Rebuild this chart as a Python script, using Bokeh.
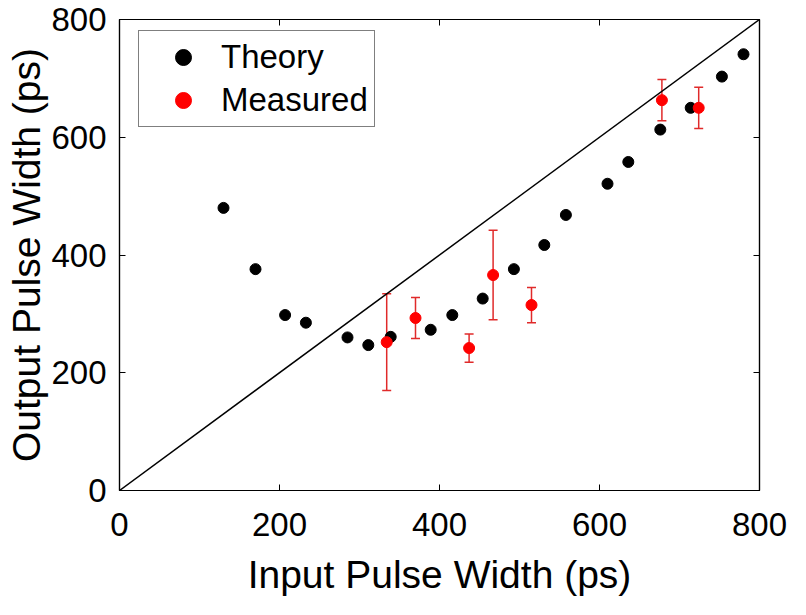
from bokeh.plotting import figure
from bokeh.models import (ColumnDataSource, Whisker, TeeHead, Legend, LegendItem,
                          LinearAxis, FixedTicker, Range1d)
from bokeh.embed import file_html
from bokeh.resources import INLINE

# ---- data ----
theory_x = [130, 170, 207, 233, 285, 311, 339, 389, 416, 454, 493, 531, 558, 610, 636, 676, 714, 753, 780]
theory_y = [480, 376, 298, 285, 260, 247, 261, 273, 298, 326, 376, 417, 468, 521, 558, 613, 650, 703, 741]

meas_x = [334, 370, 437, 467, 515, 678, 724]
meas_y = [252, 293, 242, 366, 315, 663, 650]
meas_err = [82, 35, 24, 76, 30, 35, 35]

diag_x = [0, 800]
diag_y = [0, 800]

tick_vals = [0, 200, 400, 600, 800]

FONT = "Liberation Sans"
W, H = 790, 599
BL, BR, BT, BB = 119, 31, 19, 109
FH = H - BT - BB

p = figure(width=W, height=H, output_backend="svg", toolbar_location=None,
           x_range=Range1d(0, 800), y_range=Range1d(0, 800),
           min_border_left=BL, min_border_right=BR, min_border_top=BT, min_border_bottom=BB)
p.grid.visible = False
p.outline_line_color = "black"
p.outline_line_width = 1.2
p.background_fill_color = "white"
p.border_fill_color = "white"

for ax in (p.xaxis[0], p.yaxis[0]):
    ax.ticker = FixedTicker(ticks=tick_vals)
    ax.major_tick_in = 6
    ax.major_tick_out = 0
    ax.minor_tick_line_color = None
    ax.axis_line_color = "black"
    ax.axis_line_width = 1.2
    ax.major_tick_line_color = "black"
    ax.major_label_text_font = FONT
    ax.major_label_text_font_size = "33px"
    ax.major_label_text_color = "black"
    ax.axis_label_text_font = FONT
    ax.axis_label_text_font_size = "39px"
    ax.axis_label_text_font_style = "normal"
    ax.axis_label_text_color = "black"

p.xaxis.axis_label = "Input Pulse Width (ps)"
p.yaxis.axis_label = "Output Pulse Width (ps)"
p.xaxis.major_label_standoff = 22
p.yaxis.major_label_standoff = 13
p.xaxis.axis_label_standoff = 14
p.yaxis.axis_label_standoff = 0

for loc in ("above", "right"):
    ax = LinearAxis(ticker=FixedTicker(ticks=tick_vals), major_tick_in=6, major_tick_out=0,
                    minor_tick_line_color=None, major_label_standoff=0,
                    major_label_overrides={t: "" for t in tick_vals},
                    axis_line_color="black", axis_line_width=1.2)
    p.add_layout(ax, loc)

p.line(diag_x, diag_y, line_color="black", line_width=1.5)

th = p.scatter(theory_x, theory_y, size=11, fill_color="black", line_color="black")

lower = [y - e for y, e in zip(meas_y, meas_err)]
upper = [y + e for y, e in zip(meas_y, meas_err)]
src = ColumnDataSource(dict(x=meas_x, y=meas_y, lower=lower, upper=upper))
err_col = "#e02a2a"
w = Whisker(base="x", lower="lower", upper="upper", source=src, dimension="height",
            line_color=err_col, line_width=1.5,
            upper_head=TeeHead(size=9, line_color=err_col, line_width=1.5),
            lower_head=TeeHead(size=9, line_color=err_col, line_width=1.5))
p.add_layout(w)
me = p.scatter("x", "y", source=src, size=11, fill_color="red", line_color="red")

legend = Legend(items=[LegendItem(label="Theory", renderers=[th]),
                       LegendItem(label="Measured", renderers=[me])],
                location=(19, FH - 13 - 95), padding=6, spacing=3,
                glyph_width=76, glyph_height=40, label_height=40, label_standoff=0,
                label_text_font=FONT, label_text_font_size="33px", label_text_color="black",
                border_line_color="black", border_line_width=1.2,
                background_fill_alpha=1.0)
p.add_layout(legend)

open("out.html", "w").write(file_html(p, INLINE))
